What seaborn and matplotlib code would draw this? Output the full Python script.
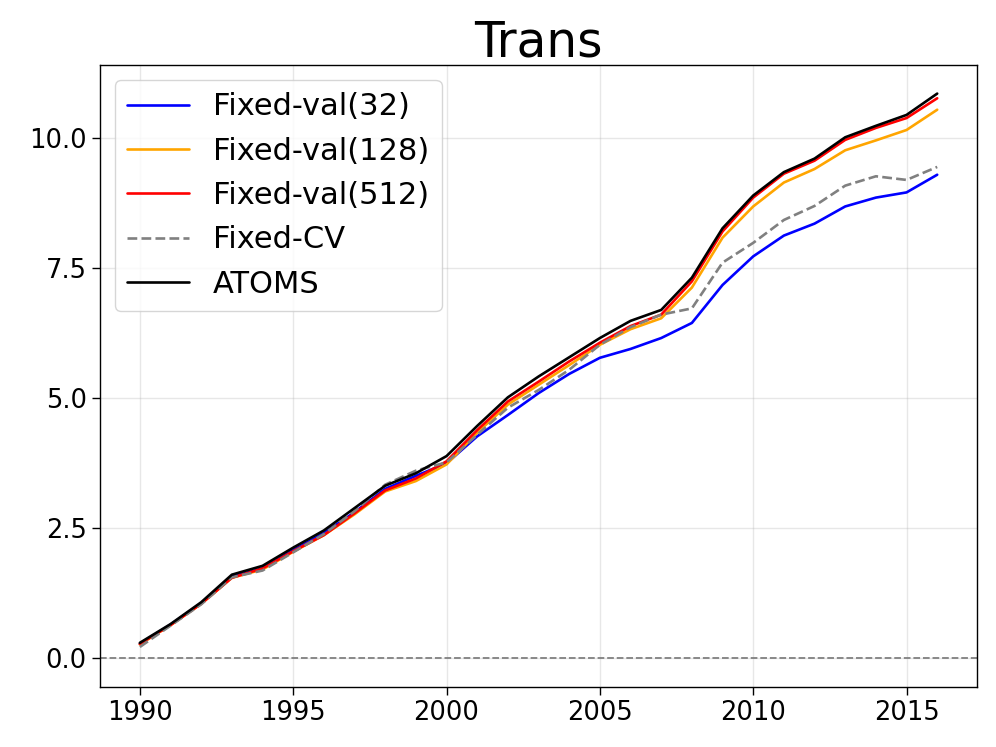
import matplotlib
matplotlib.use("Agg")
import matplotlib.pyplot as plt
import seaborn as sns
import pandas as pd

years = list(range(1990, 2017))

fixed_val_32 = [0.27, 0.64, 1.05, 1.56, 1.72, 2.07, 2.40, 2.80, 3.25, 3.50, 3.74,
                4.26, 4.67, 5.09, 5.46, 5.77, 5.94, 6.15, 6.44, 7.17, 7.72, 8.12,
                8.35, 8.68, 8.85, 8.95, 9.29]
fixed_val_128 = [0.26, 0.63, 1.04, 1.54, 1.70, 2.04, 2.36, 2.76, 3.20, 3.40, 3.72,
                 4.33, 4.87, 5.25, 5.63, 6.02, 6.32, 6.53, 7.12, 8.08, 8.68, 9.14,
                 9.40, 9.76, 9.95, 10.15, 10.54]
fixed_val_512 = [0.27, 0.63, 1.04, 1.54, 1.72, 2.05, 2.36, 2.78, 3.22, 3.45, 3.78,
                 4.38, 4.93, 5.31, 5.70, 6.06, 6.38, 6.60, 7.24, 8.20, 8.85, 9.31,
                 9.56, 9.96, 10.19, 10.38, 10.76]
fixed_cv = [0.21, 0.62, 1.03, 1.55, 1.68, 2.03, 2.38, 2.82, 3.33, 3.60, 3.76,
            4.29, 4.81, 5.15, 5.54, 6.02, 6.36, 6.60, 6.72, 7.60, 7.98, 8.42,
            8.69, 9.08, 9.26, 9.19, 9.44]
atoms = [0.29, 0.65, 1.07, 1.60, 1.77, 2.12, 2.45, 2.88, 3.31, 3.55, 3.88,
         4.46, 5.01, 5.41, 5.78, 6.15, 6.48, 6.69, 7.31, 8.26, 8.89, 9.34,
         9.60, 10.01, 10.23, 10.44, 10.85]

series = [
    ("Fixed-val(32)", fixed_val_32, "blue", "-"),
    ("Fixed-val(128)", fixed_val_128, "orange", "-"),
    ("Fixed-val(512)", fixed_val_512, "red", "-"),
    ("Fixed-CV", fixed_cv, "gray", "--"),
    ("ATOMS", atoms, "black", "-"),
]

sns.set_style("white")
plt.rcParams['font.family'] = ['DejaVu Sans']
plt.rcParams['text.color'] = 'black'
plt.rcParams['xtick.color'] = 'black'
plt.rcParams['ytick.color'] = 'black'
plt.rcParams['axes.labelcolor'] = 'black'

fig = plt.figure(figsize=(9.96, 7.47), dpi=100)
ax = fig.add_axes([0.1004, 0.0803, 0.8806, 0.8327])

for name, vals, color, ls in series:
    df = pd.DataFrame({"year": years, "value": vals})
    sns.lineplot(data=df, x="year", y="value", ax=ax, color=color,
                 linestyle=ls, linewidth=1.9, label=name)

ax.axhline(0, color="gray", linestyle="--", linewidth=1.3)
ax.grid(True, color="#b0b0b0", alpha=0.3, linewidth=1.0)
ax.set_ylim(-0.56, 11.4)
ax.set_title("Trans", fontsize=35, color="black")
ax.set_xlabel("")
ax.set_ylabel("")
ax.tick_params(axis="both", labelsize=18.5, direction="out", length=6, width=1,
               bottom=True, left=True, color="black", labelcolor="black")
for sp in ax.spines.values():
    sp.set_color("black")
    sp.set_linewidth(1)
ax.set_xticks([1990, 1995, 2000, 2005, 2010, 2015])
ax.set_yticks([0.0, 2.5, 5.0, 7.5, 10.0])
ax.set_yticklabels(["0.0", "2.5", "5.0", "7.5", "10.0"])
leg = ax.legend(loc="upper left", fontsize=22, frameon=True, edgecolor="#cccccc")
for t in leg.get_texts():
    t.set_color("black")

fig.savefig("out.png", dpi=100)
